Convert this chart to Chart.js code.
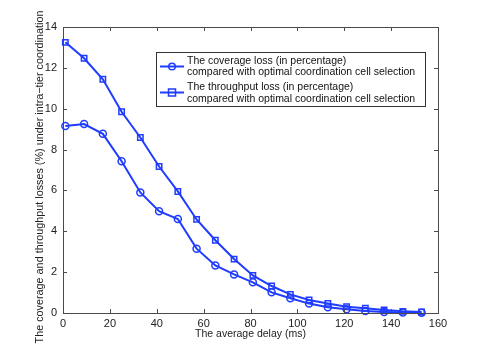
<!DOCTYPE html>
<html>
<head>
<meta charset="utf-8">
<script src="https://cdn.jsdelivr.net/npm/chart.js@4.4.1/dist/chart.umd.min.js"></script>
<style>
  html, body { margin: 0; padding: 0; background: #fff; }
  #caja { width: 485px; height: 353px; }
</style>
</head>
<body>
<div id="caja"><canvas id="grafico" width="485" height="353"></canvas></div>
<script>
// datos
const retardo = [1, 9, 17, 25, 33, 41, 49, 57, 65, 73, 81, 89, 97, 105, 113, 121, 129, 137, 145, 153];
const perdidaCobertura = [9.15, 9.25, 8.77, 7.43, 5.9, 4.98, 4.6, 3.15, 2.33, 1.89, 1.5, 1.01, 0.72, 0.46, 0.28, 0.18, 0.1, 0.05, 0.02, 0.01];
const perdidaThroughput = [13.25, 12.47, 11.44, 9.85, 8.59, 7.17, 5.95, 4.58, 3.56, 2.64, 1.84, 1.32, 0.91, 0.64, 0.47, 0.31, 0.23, 0.15, 0.08, 0.05];
const textoCobertura = ["The coverage loss (in percentage)", "compared with optimal coordination cell selection"];
const textoThroughput = ["The throughput loss (in percentage)", "compared with optimal coordination cell selection"];
const tituloX = "The average delay (ms)";
const tituloY = "The coverage and throughput losses (%) under intra\u2212tier coordination";

const AZUL = "#1f3cff";
const FUENTE = "'Liberation Sans', Arial, Helvetica, sans-serif";

const puntos = (ys) => retardo.map((x, i) => ({ x, y: ys[i] }));

// marco con marcas hacia dentro + leyenda y titulo Y al estilo matlab
const marco = {
  id: "marco",
  afterDraw(chart) {
    const { ctx, chartArea: a, scales: { x, y } } = chart;
    ctx.save();
    ctx.strokeStyle = "#4a4a4a";
    ctx.lineWidth = 1;
    ctx.strokeRect(a.left + 0.5, a.top + 0.5, a.right - a.left, a.bottom - a.top);
    const raya = (x1, y1, x2, y2) => { ctx.beginPath(); ctx.moveTo(x1, y1); ctx.lineTo(x2, y2); ctx.stroke(); };
    x.ticks.forEach(t => {
      const px = Math.round(x.getPixelForValue(t.value)) + 0.5;
      raya(px, a.bottom, px, a.bottom - 4);
      raya(px, a.top, px, a.top + 4);
    });
    y.ticks.forEach(t => {
      const py = Math.round(y.getPixelForValue(t.value)) + 0.5;
      raya(a.left, py, a.left + 4, py);
      raya(a.right, py, a.right - 4, py);
    });

    // titulo del eje Y (un poco desplazado hacia abajo, como en el original)
    ctx.save();
    ctx.translate(40, 177);
    ctx.rotate(-Math.PI / 2);
    ctx.font = "10.8px " + FUENTE;
    ctx.fillStyle = "#222";
    ctx.textAlign = "center";
    ctx.textBaseline = "middle";
    ctx.fillText(tituloY, 0, 0);
    ctx.restore();

    // leyenda
    const L = 156, T = 52, R = 425, B = 106;
    ctx.fillStyle = "#fff";
    ctx.fillRect(L, T, R - L, B - T);
    ctx.strokeStyle = "#333";
    ctx.strokeRect(L + 0.5, T + 0.5, R - L, B - T);
    ctx.font = "10.5px " + FUENTE;
    ctx.textBaseline = "middle";
    ctx.textAlign = "left";
    const entradas = [
      { texto: textoCobertura, forma: "circle", yc: 66.5, lineas: [61, 72.5] },
      { texto: textoThroughput, forma: "rect", yc: 92.5, lineas: [87, 99] }
    ];
    entradas.forEach(e => {
      ctx.strokeStyle = AZUL;
      ctx.lineWidth = 2;
      raya(160, e.yc, 184, e.yc);
      ctx.lineWidth = 1.5;
      if (e.forma === "circle") {
        ctx.beginPath(); ctx.arc(172, e.yc, 3.3, 0, Math.PI * 2); ctx.stroke();
      } else {
        ctx.strokeRect(168.5, e.yc - 3.5, 7, 7);
      }
      ctx.fillStyle = "#111";
      e.texto.forEach((t, i) => ctx.fillText(t, 187, e.lineas[i]));
    });
    ctx.restore();
  }
};

const ctx = document.getElementById("grafico").getContext("2d");
new Chart(ctx, {
  type: "line",
  data: {
    datasets: [
      {
        label: "coverage",
        data: puntos(perdidaCobertura),
        borderColor: AZUL,
        backgroundColor: "rgba(0,0,0,0)",
        borderWidth: 2,
        pointStyle: "circle",
        pointRadius: 3.5,
        pointBorderWidth: 1.5,
        pointBorderColor: AZUL,
        pointBackgroundColor: "rgba(0,0,0,0)",
        tension: 0,
        clip: false
      },
      {
        label: "throughput",
        data: puntos(perdidaThroughput),
        borderColor: AZUL,
        backgroundColor: "rgba(0,0,0,0)",
        borderWidth: 2,
        pointStyle: "rect",
        pointRadius: 3.8,
        pointBorderWidth: 1.5,
        pointBorderColor: AZUL,
        pointBackgroundColor: "rgba(0,0,0,0)",
        tension: 0,
        clip: false
      }
    ]
  },
  options: {
    responsive: false,
    animation: false,
    layout: { padding: { top: 27, right: 47, left: 0, bottom: 0 } },
    plugins: { legend: { display: false }, tooltip: { enabled: false } },
    scales: {
      x: {
        type: "linear",
        min: 0, max: 160,
        grid: { display: false, drawTicks: false },
        border: { display: false },
        ticks: { stepSize: 20, color: "#222", padding: 4, font: { family: FUENTE, size: 11 }, maxRotation: 0 },
        title: { display: true, text: tituloX, color: "#222", font: { family: FUENTE, size: 10.5 }, padding: { top: 0, bottom: 13 } },
        afterFit(s) { s.height = 40; }
      },
      y: {
        min: 0, max: 14,
        grid: { display: false, drawTicks: false },
        border: { display: false },
        ticks: { stepSize: 2, color: "#222", padding: 6, font: { family: FUENTE, size: 11 } },
        afterFit(s) { s.width = 63; }
      }
    }
  },
  plugins: [marco]
});
</script>
</body>
</html>
